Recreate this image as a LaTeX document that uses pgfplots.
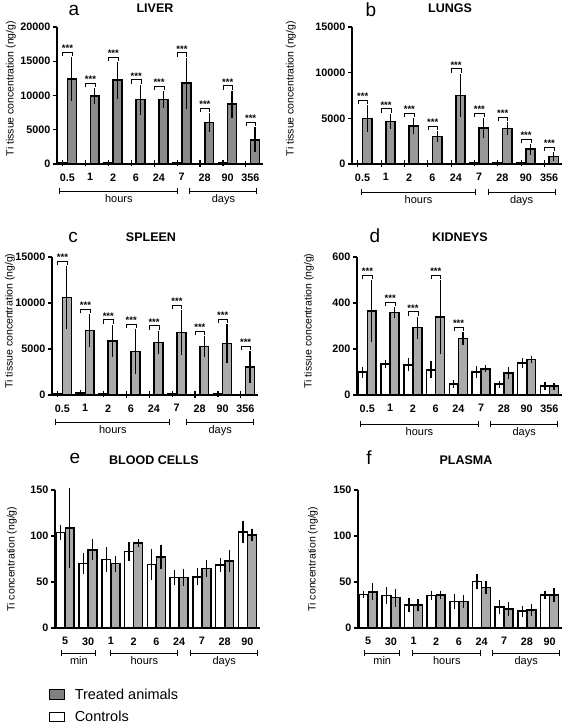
\documentclass[border=0pt]{standalone}
\usepackage{pgfplots}
\pgfplotsset{compat=1.18}
\usepackage{pgfplotstable}
\usepackage{fontspec}
\setmainfont{Liberation Sans}

\definecolor{ga}{RGB}{138,138,138}
\definecolor{gb}{RGB}{152,152,152}
\definecolor{gc}{RGB}{170,170,170}
\definecolor{gl}{RGB}{128,128,128}

\pgfplotstableread{
x c ce t te
0 120 30 12400 2750
1 100 20 9950 730
2 150 30 12230 2230
3 100 20 9400 1750
4 60 20 9420 780
5 110 30 11800 3300
6 60 20 6070 920
7 150 30 8740 1550
8 50 20 3540 1410
}\dataA
\pgfplotstableread{
x c ce t te
0 60 20 4980 1150
1 60 20 4670 510
2 70 20 4160 550
3 60 20 2990 290
4 60 20 7520 2040
5 130 30 3940 770
6 80 20 3870 365
7 80 20 1610 250
8 50 20 800 180
}\dataB
\pgfplotstableread{
x c ce t te
0 80 20 10580 3080
1 220 40 6990 1450
2 100 20 5900 1410
3 70 20 4710 2140
4 70 20 5720 940
5 80 20 6810 2100
6 70 20 5290 800
7 120 30 5620 1770
8 40 20 3040 1380
}\dataC
\pgfplotstableread{
x c ce t te
0 99 11 365 121
1 134 4 358 11
2 131 15 293 35
3 110 23 339 147
4 47 4 245 15
5 99 13 114 3
6 47 3 95 12
7 139 8 155 3
8 39 3 38 2
}\dataD
\pgfplotstableread{
x c ce t te
0 104 5 109 40
1 70 8 85 8
2 74.5 10 70 5.5
3 83 7 92.6 1
4 69 14 77 10
5 55 5 55 6
6 55.5 6 64.6 6
7 68.6 4 72.6 9
8 104.6 8.7 101 3.5
}\dataE
\pgfplotstableread{
x c ce t te
0 36.4 0.5 39.3 6
1 35.3 6 33 6.5
2 25 4.5 25 3.5
3 35.3 2 36 1.5
4 28.7 4.5 28.7 4
5 50.6 5 44 4
6 23 4 20.4 4.5
7 18.2 3 19.7 3
8 36 1 36 4
}\dataF

\newcommand{\sig}[2]{%
  \draw[line width=0.6pt] ([yshift=4pt]axis cs:#1-0.2,#2) -- ([yshift=8pt]axis cs:#1-0.2,#2) -- ([yshift=8pt]axis cs:#1+0.22,#2) -- ([yshift=4pt]axis cs:#1+0.22,#2);
  \node[font=\bfseries\fontsize{9.5}{10}\selectfont, anchor=base, inner sep=0pt] at ([yshift=8.5pt]axis cs:#1+0.01,#2) {***};}
% x1 x2 xmid yshift label
\newcommand{\grp}[5]{%
  \draw[line width=0.9pt] ([yshift=#4]axis cs:#1,0) -- ([yshift=#4]axis cs:#2,0);
  \draw[line width=0.9pt] ([yshift=#4+3pt]axis cs:#1,0) -- ([yshift=#4-3pt]axis cs:#1,0);
  \draw[line width=0.9pt] ([yshift=#4+3pt]axis cs:#2,0) -- ([yshift=#4-3pt]axis cs:#2,0);
  \node[font=\fontsize{11}{12}\selectfont, anchor=north, inner sep=0pt] at ([yshift=#4-3pt]axis cs:#3,0) {#5};}

\pgfplotsset{
  panel/.style={
    scale only axis, axis lines=left, axis line style={line width=1.1pt, -},
    xmin=-0.45, xmax=8.55, ymin=0, xtick={0,...,8},
    x tick style={draw=none}, y tick style={line width=1.1pt, black},
    tick align=outside, major tick length=4pt,
    ybar, bar width=0.39, clip=false,
    ticklabel style={font=\bfseries\fontsize{10.8}{12}\selectfont},
    xticklabel style={yshift=-2pt},
    yticklabel style={xshift=1pt},
    /pgf/number format/assume math mode=true, /pgf/number format/1000 sep={},
    scaled y ticks=false,
    every axis y label/.style={at={(rel axis cs:0,0.5)}, rotate=90, anchor=center, font=\fontsize{10.5}{12}\selectfont},
  },
  ctrl/.style={fill=white, draw=black, line width=1.6pt, bar shift=-0.2,
    error bars/.cd, y dir=both, y explicit,
    error bar style={line width=1.2pt, black},
    error mark options={line width=1.2pt, mark size=3pt, black}},
  trt/.style={fill=#1, draw=black, line width=1.6pt, bar shift=0.2,
    error bars/.cd, y dir=both, y explicit,
    error bar style={line width=1.2pt, black},
    error mark options={line width=1.2pt, mark size=3pt, black}},
}

\begin{document}
\begin{tikzpicture}
\useasboundingbox (0,0) rectangle (567pt,-726pt);

% titles
\node[font=\fontsize{19}{20}\selectfont] at (74pt,-10pt) {a};
\node[font=\bfseries\fontsize{12.5}{14}\selectfont] at (155pt,-8pt) {LIVER};
\node[font=\fontsize{19}{20}\selectfont] at (371pt,-10pt) {b};
\node[font=\bfseries\fontsize{12.5}{14}\selectfont] at (450pt,-8pt) {LUNGS};
\node[font=\fontsize{19}{20}\selectfont] at (73pt,-237pt) {c};
\node[font=\bfseries\fontsize{12.5}{14}\selectfont] at (151pt,-237pt) {SPLEEN};
\node[font=\fontsize{19}{20}\selectfont] at (375pt,-236pt) {d};
\node[font=\bfseries\fontsize{12.5}{14}\selectfont] at (460pt,-237pt) {KIDNEYS};
\node[font=\fontsize{19}{20}\selectfont] at (75pt,-458pt) {e};
\node[font=\bfseries\fontsize{12.5}{14}\selectfont] at (154pt,-460pt) {BLOOD CELLS};
\node[font=\fontsize{19}{20}\selectfont] at (369pt,-458pt) {f};
\node[font=\bfseries\fontsize{12.5}{14}\selectfont] at (466pt,-460pt) {PLASMA};

% ---------- a LIVER
\begin{axis}[panel, at={(57pt,-164pt)}, anchor=south west, width=206pt, height=137pt,
  ymax=20000, ytick={0,5000,10000,15000,20000},
  xticklabels={0.5,1,2,6,24,7,28,90,356},
  ylabel={Ti tissue concentration (ng/g)}, ylabel style={xshift=7pt, yshift=46pt}]
\addplot[ctrl] table[x=x, y=c, y error=ce]{\dataA};
\addplot[trt=ga] table[x=x, y=t, y error=te]{\dataA};
\sig{0}{15150}\sig{1}{10680}\sig{2}{14460}\sig{3}{11150}\sig{4}{10200}
\sig{5}{15100}\sig{6}{6990}\sig{7}{10290}\sig{8}{4950}
\grp{-0.33}{4.83}{2.25}{-27pt}{hours}
\grp{5.35}{8.28}{6.82}{-27pt}{days}
\end{axis}

% ---------- b LUNGS
\begin{axis}[panel, at={(352pt,-164pt)}, anchor=south west, width=210pt, height=137pt,
  ymax=15000, ytick={0,5000,10000,15000},
  xticklabels={0.5,1,2,6,24,7,28,90,356},
  ylabel={Ti tissue concentration (ng/g)}, ylabel style={xshift=7pt, yshift=61pt}]
\addplot[ctrl] table[x=x, y=c, y error=ce]{\dataB};
\addplot[trt=gb] table[x=x, y=t, y error=te]{\dataB};
\sig{0}{6130}\sig{1}{5180}\sig{2}{4710}\sig{3}{3280}\sig{4}{9560}
\sig{5}{4710}\sig{6}{4235}\sig{7}{1860}\sig{8}{980}
\grp{-0.03}{4.86}{2.4}{-28pt}{hours}
\grp{5.38}{8.26}{6.82}{-28pt}{days}
\end{axis}

% ---------- c SPLEEN
\begin{axis}[panel, at={(52pt,-395pt)}, anchor=south west, width=206pt, height=138pt,
  ymax=15000, ytick={0,5000,10000,15000},
  xticklabels={0.5,1,2,6,24,7,28,90,356},
  ylabel={Ti tissue concentration (ng/g)}, ylabel style={xshift=5pt, yshift=42pt}]
\addplot[ctrl] table[x=x, y=c, y error=ce]{\dataC};
\addplot[trt=gc] table[x=x, y=t, y error=te]{\dataC};
\sig{0}{13660}\sig{1}{8440}\sig{2}{7310}\sig{3}{6850}\sig{4}{6660}
\sig{5}{8910}\sig{6}{6090}\sig{7}{7390}\sig{8}{4420}
\grp{-0.28}{4.70}{2.21}{-27pt}{hours}
\grp{5.44}{8.36}{6.9}{-27pt}{days}
\end{axis}

% ---------- d KIDNEYS
\begin{axis}[panel, at={(357pt,-395pt)}, anchor=south west, width=205pt, height=138pt,
  ymax=600, ytick={0,200,400,600},
  xticklabels={0.5,1,2,6,24,7,28,90,356},
  ylabel={Ti tissue concentration (ng/g)}, ylabel style={xshift=5pt, yshift=48pt}]
\addplot[ctrl] table[x=x, y=c, y error=ce]{\dataD};
\addplot[trt=gc] table[x=x, y=t, y error=te]{\dataD};
\sig{0}{486}\sig{1}{369}\sig{2}{328}\sig{3}{486}\sig{4}{260}
\grp{-0.32}{4.89}{2.29}{-29pt}{hours}
\grp{5.42}{8.36}{6.89}{-29pt}{days}
\end{axis}

% ---------- e BLOOD CELLS
\begin{axis}[panel, at={(55pt,-628pt)}, anchor=south west, width=205pt, height=138pt,
  ymax=150, ytick={0,50,100,150},
  xticklabels={5,30,1,2,6,24,7,28,90},
  ylabel={Ti concentration (ng/g)}, ylabel style={yshift=43pt},
  legend style={at={(rel axis cs:-0.045,-0.41)}, anchor=north west, draw=none, fill=none,
    font=\fontsize{14.5}{16}\selectfont, row sep=6pt, legend cell align=left,
    /tikz/every odd column/.style={column sep=8pt}},
  legend image code/.code={\draw[#1] (0pt,-4.5pt) rectangle (15pt,5pt);}]
\addplot[forget plot, ctrl] table[x=x, y=c, y error=ce]{\dataE};
\addplot[forget plot, trt=gc] table[x=x, y=t, y error=te]{\dataE};
\addlegendimage{fill=gl, draw=black, line width=0.8pt}
\addlegendentry{Treated animals}
\addlegendimage{fill=white, draw=black, line width=0.6pt}
\addlegendentry{Controls}
\grp{-0.15}{1.34}{0.6}{-25pt}{min}
\grp{2.0}{4.94}{3.47}{-25pt}{hours}
\grp{5.5}{8.45}{6.98}{-25pt}{days}
\end{axis}

% ---------- f PLASMA
\begin{axis}[panel, at={(358pt,-628pt)}, anchor=south west, width=204pt, height=138pt,
  ymax=150, ytick={0,50,100,150},
  xticklabels={5,30,1,2,6,24,7,28,90},
  ylabel={Ti concentration (ng/g)}, ylabel style={yshift=45pt}]
\addplot[ctrl] table[x=x, y=c, y error=ce]{\dataF};
\addplot[trt=gc] table[x=x, y=t, y error=te]{\dataF};
\grp{-0.15}{1.39}{0.62}{-25pt}{min}
\grp{1.97}{4.96}{3.47}{-25pt}{hours}
\grp{5.49}{8.44}{6.97}{-25pt}{days}
\end{axis}
\end{tikzpicture}
\end{document}
